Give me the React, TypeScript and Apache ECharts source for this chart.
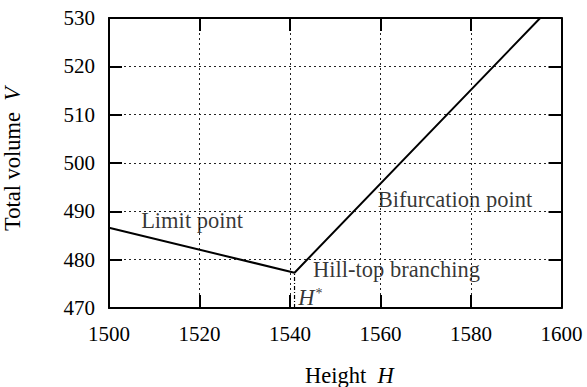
import React, { useEffect, useRef } from "react";
import * as echarts from "echarts";

// Equilibrium path: total volume V against height H
const pathH = [1500, 1541, 1595.3];
const pathV = [486.6, 477.3, 530];

// Critical height H* marked with a dashed drop line
const hStar = 1541;
const vStar = 477.3;

const xTicks = [1500, 1520, 1540, 1560, 1580, 1600];
const yTicks = [470, 480, 490, 500, 510, 520, 530];

// Annotation anchors (left edge of each label, in data units)
const notes = [
  { text: "Limit point", H: 1507.1, V: 488.2 },
  { text: "Bifurcation point", H: 1559.4, V: 492.5 },
  { text: "Hill-top branching", H: 1545.1, V: 477.9 },
];
const hStarLabel = { H: 1541.8, V: 472.1 };

const FONT = "'Liberation Serif', 'Times New Roman', serif";
const FS = 21;
const FS_NOTE = 22.5;
const INK = "#000";

export default function App() {
  const ref = useRef<HTMLDivElement>(null);

  useEffect(() => {
    if (!ref.current) return;
    const chart = echarts.init(ref.current, null, { renderer: "svg" });

    const axisCommon = {
      type: "value" as const,
      axisLine: { show: true, lineStyle: { color: INK, width: 2 } },
      axisTick: { show: true, inside: true, length: 13, lineStyle: { color: INK, width: 2 } },
      splitLine: { show: false },
    };

    const plain = (v: number) => String(v);
    const pts = pathH.map((h, i) => [h, pathV[i]]);

    chart.setOption({
      animation: false,
      backgroundColor: "#fff",
      textStyle: { fontFamily: FONT, color: INK },
      grid: { left: 109, top: 18, width: 452.5, height: 290, containLabel: false },
      xAxis: [
        {
          ...axisCommon,
          position: "bottom",
          min: xTicks[0],
          max: xTicks[xTicks.length - 1],
          interval: 20,
          axisLabel: { color: INK, fontFamily: FONT, fontSize: FS, margin: 15, formatter: plain },
          splitLine: { show: true, lineStyle: { color: "#222", width: 1, type: [2, 3] } },
        },
        {
          ...axisCommon,
          position: "top",
          min: xTicks[0],
          max: xTicks[xTicks.length - 1],
          interval: 20,
          axisLabel: { show: false },
        },
      ],
      yAxis: [
        {
          ...axisCommon,
          position: "left",
          min: yTicks[0],
          max: yTicks[yTicks.length - 1],
          interval: 10,
          axisLabel: { color: INK, fontFamily: FONT, fontSize: FS, margin: 14, formatter: plain },
          splitLine: { show: true, lineStyle: { color: "#222", width: 1, type: [2, 3] } },
        },
        {
          ...axisCommon,
          position: "right",
          min: yTicks[0],
          max: yTicks[yTicks.length - 1],
          interval: 10,
          axisLabel: { show: false },
        },
      ],
      graphic: [
        {
          type: "text",
          left: 305,
          top: 364,
          style: {
            text: "{n|Height  }{i|H}",
            rich: {
              n: { fontFamily: FONT, fontSize: FS_NOTE, fill: INK },
              i: { fontFamily: FONT, fontSize: FS_NOTE, fontStyle: "italic", fill: INK },
            },
          },
        },
        {
          type: "text",
          x: 1,
          y: 231,
          rotation: Math.PI / 2,
          style: {
            text: "{n|Total volume  }{i|V}",
            rich: {
              n: { fontFamily: FONT, fontSize: FS_NOTE, fill: INK },
              i: { fontFamily: FONT, fontSize: FS_NOTE, fontStyle: "italic", fill: INK },
            },
          },
        },
      ],
      series: [
        {
          type: "line",
          data: pts,
          showSymbol: false,
          clip: true,
          lineStyle: { color: INK, width: 2 },
          z: 5,
        },
        {
          type: "line",
          data: [
            [hStar, yTicks[0]],
            [hStar, vStar],
          ],
          showSymbol: false,
          lineStyle: { color: INK, width: 1.2, type: [4, 2, 1, 2] },
          z: 4,
        },
        {
          type: "scatter",
          symbolSize: 0,
          silent: true,
          data: notes.map((n) => ({
            value: [n.H, n.V],
            label: {
              show: true,
              position: "right",
              distance: 0,
              formatter: n.text,
              color: INK,
              fontFamily: FONT,
              fontSize: FS_NOTE,
            },
          })),
          z: 6,
        },
        {
          type: "scatter",
          symbolSize: 0,
          silent: true,
          data: [
            {
              value: [hStarLabel.H, hStarLabel.V],
              label: {
                show: true,
                position: "right",
                distance: 0,
                formatter: "{i|H}{s|*}",
                rich: {
                  i: { fontFamily: FONT, fontSize: FS_NOTE, fontStyle: "italic", color: INK },
                  s: { fontFamily: FONT, fontSize: 14, color: INK, verticalAlign: "top", padding: [0, 0, 8, 1] },
                },
              },
            },
          ],
          z: 6,
        },
      ],
    });

    return () => chart.dispose();
  }, []);

  return (
    <div
      ref={ref}
      style={{ position: "fixed", left: 0, top: 0, width: 587, height: 387, background: "#fff" }}
    />
  );
}
